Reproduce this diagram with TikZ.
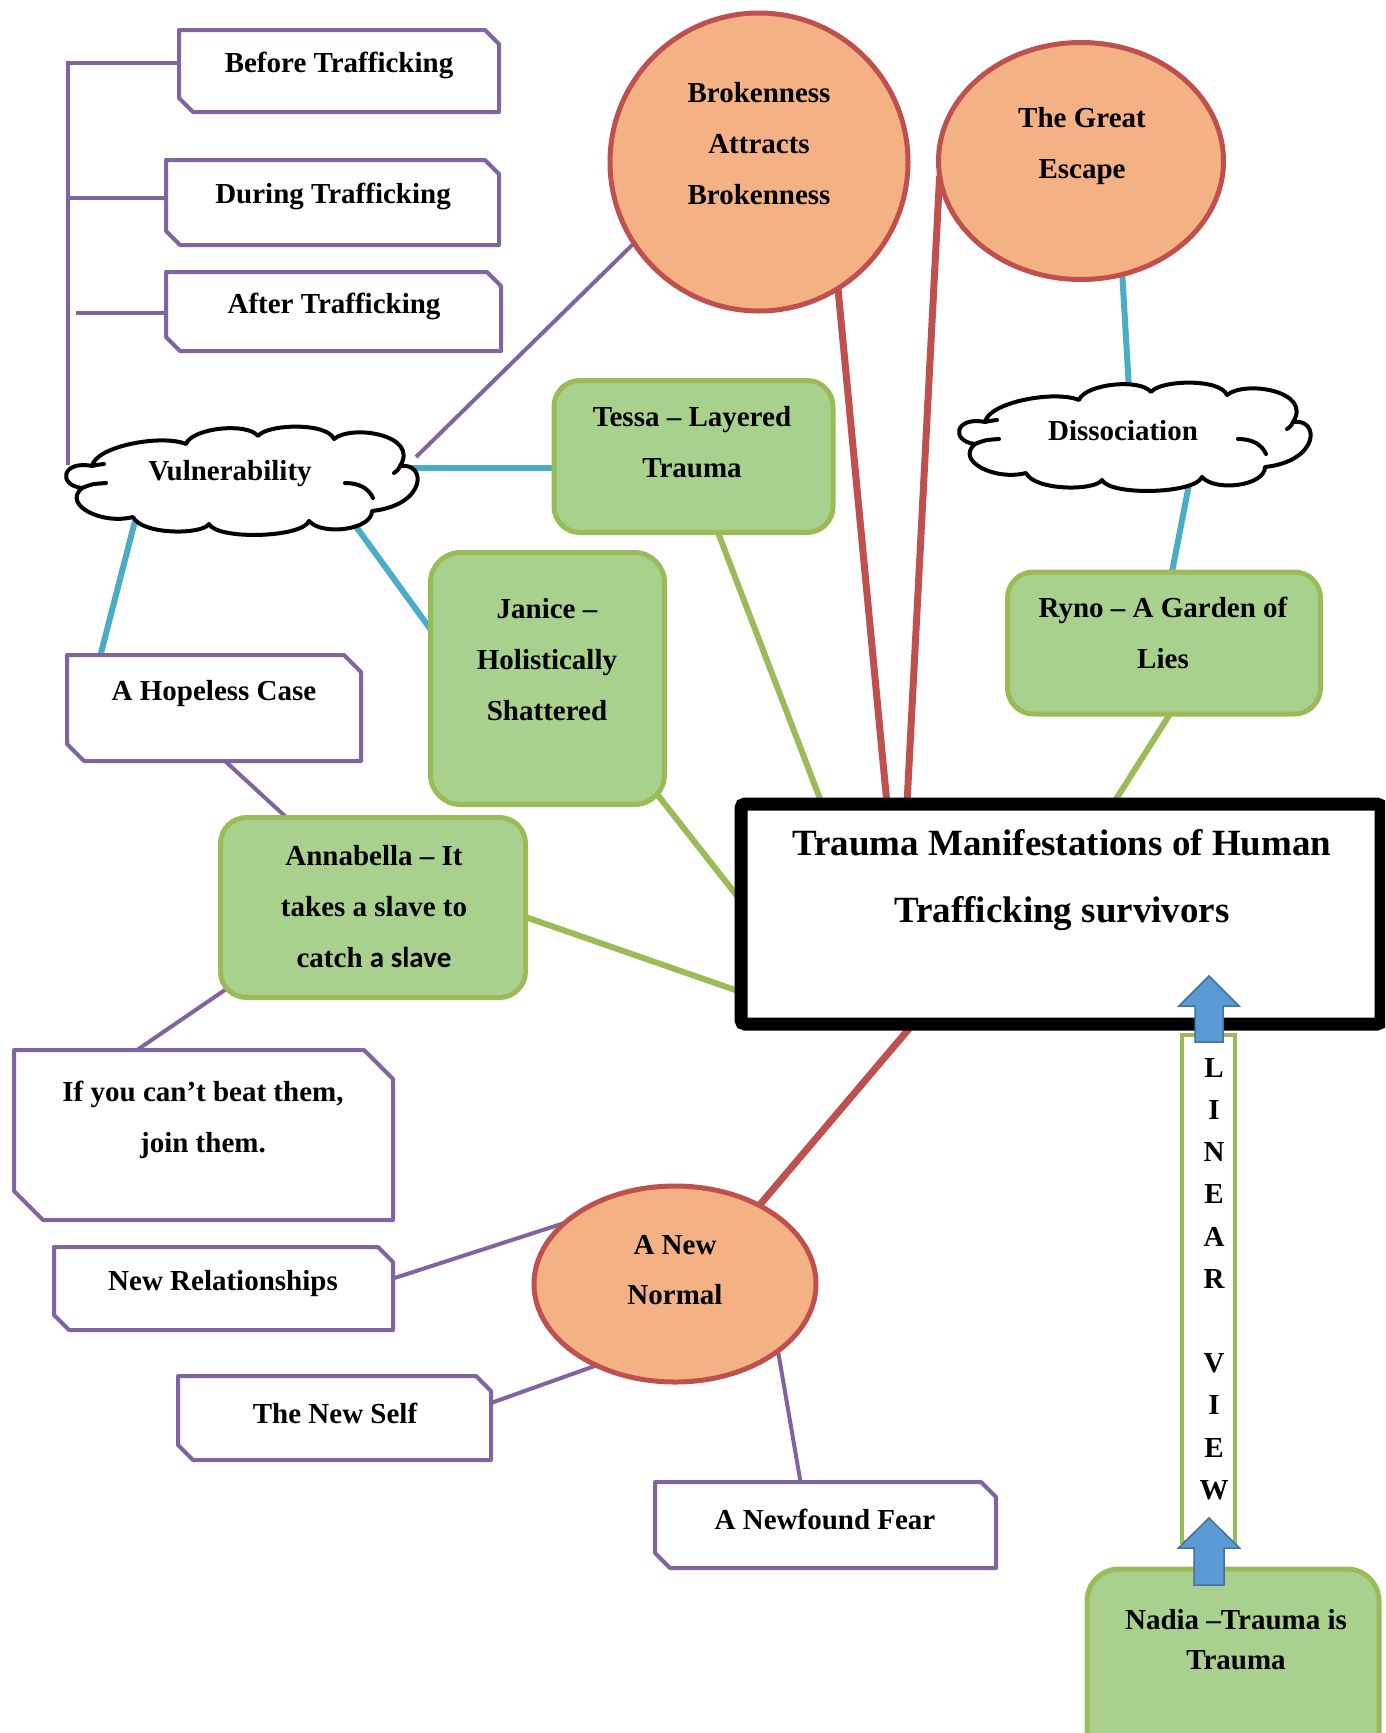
\documentclass[tikz,border=0pt]{standalone}
\usepackage{fontspec}
\setmainfont{Liberation Serif}
\newfontfamily\calibfont{Carlito}
\usetikzlibrary{shapes.geometric,calc}
\pgfdeclarelayer{background}
\pgfsetlayers{background,main}

\definecolor{cPurple}{HTML}{8064A2}
\definecolor{cBlue}{HTML}{4BACC6}
\definecolor{cRed}{HTML}{C0504D}
\definecolor{cGreenLine}{HTML}{9BBB59}
\definecolor{cGreenFill}{HTML}{A9D18E}
\definecolor{cOrange}{HTML}{F4B183}
\definecolor{cArrowFill}{HTML}{5B9BD5}
\definecolor{cArrowLine}{HTML}{41719C}

\tikzset{
  lbl/.style={font=\bfseries\fontsize{29}{51}\selectfont, align=center, inner sep=0pt},
  snipbox/.style={rectangle, inner sep=0pt},
  snipline/.style={draw=cPurple, fill=white, line width=4pt, line join=round},
  greenbox/.style={rectangle, rounded corners=26pt, draw=cGreenLine, fill=cGreenFill,
    line width=5pt, inner sep=0pt},
  bubble/.style={ellipse, draw=cRed, fill=cOrange, line width=5pt, inner sep=0pt},
  cloudspot/.style={ellipse, inner sep=0pt, minimum width=348pt, minimum height=106pt},
  purpline/.style={draw=cPurple, line width=4pt},
  blueline/.style={draw=cBlue, line width=6pt},
  redline/.style={draw=cRed, line width=7pt},
  greenline/.style={draw=cGreenLine, line width=6pt},
  blockarrow/.style={fill=cArrowFill, draw=cArrowLine, line width=1.5pt, line join=miter},
  % cloud outline made of ten puffs, with the short inner strokes of the puffs
  cloudshape/.pic={
    \filldraw[fill=white, draw=black, line width=4pt, line join=round]
      (-150,-14) .. controls (-146,-34) and (-80,-46) .. (-56,-36)
      .. controls (-50,-52) and (5,-58) .. (16,-44)
      .. controls (25,-56) and (85,-58) .. (92,-41)
      .. controls (110,-56) and (178,-45) .. (158,-14)
      .. controls (185,-18) and (185,25) .. (130,31)
      .. controls (130,50) and (80,56) .. (67,41)
      .. controls (60,58) and (-25,60) .. (-33,44)
      .. controls (-40,55) and (-100,55) .. (-109,37)
      .. controls (-140,45) and (-180,25) .. (-160,8)
      .. controls (-185,5) and (-180,-20) .. cycle;
    \draw[black, line width=4pt, line cap=round]
      (-150,-14) .. controls (-146,-15) .. (-138,-16)
      (158,-14) .. controls (156,-10) .. (152,-7)
      (103,3) .. controls (118,3) and (127,9) .. (131,18)
      (-160,8) .. controls (-150,4) .. (-136,3);
  }
}

% purple frame with the north-east and south-west corners cut off
\newcommand{\snipframe}[2]{%
  \filldraw[snipline] (#1.north west) -- ($(#1.north east)+(-#2,0)$)
    -- ($(#1.north east)+(0,#2)$) -- (#1.south east)
    -- ($(#1.south west)+(#2,0)$) -- ($(#1.south west)+(0,-#2)$) -- cycle;}

\begin{document}
\begin{tikzpicture}[x=1pt, y=-1pt, every node/.append style={outer sep=0pt}]
\useasboundingbox (0,0) rectangle (1385,1733);
\begin{scope}
\clip (0,0) rectangle (1385,1733);

% ---- time-line boxes
\node[snipbox, minimum width=320pt, minimum height=82pt] (bt) at (339,71) {};
\snipframe{bt}{14}
\node[lbl] (btt) at (339,65) {Before Trafficking};
\node[snipbox, minimum width=333pt, minimum height=85pt] (dt) at (332.5,202.5) {};
\snipframe{dt}{14}
\node[lbl] (dtt) at (333,196) {During Trafficking};
\node[snipbox, minimum width=335pt, minimum height=79pt] (aft) at (333.5,311.5) {};
\snipframe{aft}{14}
\node[lbl] (aftt) at (334,306) {After Trafficking};

% ---- clouds
\node[cloudspot] (vul) at (242,480) {};
\pic at (vul.center) {cloudshape};
\node[lbl] (vult) at (230,474) {Vulnerability};
\node[cloudspot] (diss) at (1135,436) {};
\pic at (diss.center) {cloudshape};
\node[lbl] (disst) at (1123,431) {Dissociation};

% ---- themes
\node[bubble, minimum width=298pt, minimum height=298pt] (brok) at (759,162) {};
\node[lbl] (brokt) at (759,144) {Brokenness\\Attracts\\Brokenness};
\node[bubble, minimum width=285pt, minimum height=237pt] (esc) at (1081,161) {};
\node[lbl] (esct) at (1082,146) {The Great\\Escape};
\node[bubble, minimum width=282pt, minimum height=196pt] (normal) at (675,1284) {};
\node[lbl, font=\bfseries\fontsize{29}{50}\selectfont] (normalt) at (675,1270) {A New\\Normal};

% ---- participants
\node[greenbox, minimum width=279pt, minimum height=152pt] (tessa) at (693.5,456.5) {};
\node[lbl] (tessat) at (692,442) {Tessa – Layered\\Trauma};
\node[greenbox, rounded corners=30pt, minimum width=234pt, minimum height=252pt] (janice) at (547.5,678.5) {};
\node[lbl] (janicet) at (547,660) {Janice –\\Holistically\\Shattered};
\node[greenbox, minimum width=313pt, minimum height=142pt] (ryno) at (1164,643) {};
\node[lbl] (rynot) at (1163,633) {Ryno – A Garden of\\Lies};
\node[greenbox, minimum width=305pt, minimum height=180pt] (anna) at (373,907.5) {};
\node[lbl] (annat) at (374,907) {Annabella – It\\takes a slave to\\catch {\calibfont a slave}};
\node[greenbox, rounded corners=32pt, minimum width=292pt, minimum height=222pt] (nadia) at (1233,1680) {};
\node[lbl, font=\bfseries\fontsize{29}{40}\selectfont] (nadiat) at (1236,1640) {Nadia –Trauma is\\Trauma};

% ---- sub-themes
\node[snipbox, minimum width=294pt, minimum height=106pt] (hope) at (214,708) {};
\snipframe{hope}{17}
\node[lbl] (hopet) at (214,694) {A Hopeless Case};
\node[snipbox, minimum width=379pt, minimum height=170pt] (ifyou) at (203.5,1135) {};
\snipframe{ifyou}{29}
\node[lbl] (ifyout) at (203,1120) {If you can’t beat them,\\join them.};
\node[snipbox, minimum width=339pt, minimum height=83pt] (newrel) at (223.5,1288.5) {};
\snipframe{newrel}{15}
\node[lbl] (newrelt) at (223,1284) {New Relationships};
\node[snipbox, minimum width=313pt, minimum height=84pt] (newself) at (334.5,1418) {};
\snipframe{newself}{15}
\node[lbl] (newselft) at (335,1413) {The New Self};
\node[snipbox, minimum width=341pt, minimum height=86pt] (fear) at (825.5,1525) {};
\snipframe{fear}{15}
\node[lbl] (feart) at (825,1519) {A Newfound Fear};

% ---- central box
\node[draw=black, line width=13pt, rounded corners=4pt, fill=white, inner sep=0pt,
      minimum width=640pt, minimum height=220pt] (main) at (1061,914) {};
\node[lbl, font=\bfseries\fontsize{37}{67}\selectfont] (maint) at (1062,880)
  {Trauma Manifestations of Human\\Trafficking survivors};

% ---- linear view column
\node[draw=cGreenLine, line width=4pt, fill=white, inner sep=0pt,
      minimum width=53pt, minimum height=507pt] (lvbox) at (1208.5,1288.5) {};
\node[lbl, font=\bfseries\fontsize{29}{42.2}\selectfont] (lvt) at (1214,1279)
  {L\\I\\N\\E\\A\\R\\\mbox{}\\V\\I\\E\\W};

% ---- block arrows
\filldraw[blockarrow] (1209,976) -- (1239,1006) -- (1223,1006) -- (1223,1042)
  -- (1195,1042) -- (1195,1006) -- (1179,1006) -- cycle;
\filldraw[blockarrow] (1209,1518) -- (1239.5,1548) -- (1224,1548) -- (1224,1585)
  -- (1194,1585) -- (1194,1548) -- (1178.5,1548) -- cycle;

% ---- connectors
\begin{pgfonlayer}{background}
  % bracket joining the time-line boxes
  \draw[purpline] ($(vul.west)+(0,-15)$) coordinate (bra) |- ($(bt.west)+(0,-8)$);
  \draw[purpline] ($(bra |- dt.west)+(0,-5)$) -- ($(dt.west)+(0,-5)$);
  \draw[purpline] ($(bra |- aft.west)+(8,1.5)$) -- ($(aft.west)+(0,1.5)$);
  % purple links
  \draw[purpline] ($(vul.east)+(0,-23)$) -- (brok.213);
  \draw[purpline] ($(hope.south)+(11,0)$) -- ($(anna.north west)+(66,0)$);
  \draw[purpline] ($(anna.south west)+(8,-10)$) -- ($(ifyou.north west)+(123,0)$);
  \draw[purpline] ($(newrel.east)+(0,-10)$) -- (normal.151);
  \draw[purpline] ($(newself.east)+(0,-15)$) -- (normal.226);
  \draw[purpline] (normal.327) -- ($(fear.north)+(-25,0)$);
  % blue links
  \draw[blueline] ($(vul.east)+(-6,-12)$) -- ($(tessa.west)+(0,11.5)$);
  \draw[blueline] ($(vul.south)+(-107,-12)$) -- ($(hope.north west)+(33,2)$);
  \draw[blueline] ($(vul.south)+(110,-12)$) -- ($(janice.west)+(2,-46.5)$);
  \draw[blueline] (esc.290) -- ($(diss.north)+(-6,6)$);
  \draw[blueline] ($(diss.south)+(57,-20)$) -- ($(ryno.north)+(8,0)$);
  % red links
  \draw[redline] (brok.302) -- ($(main.north west)+(146,0)$);
  \draw[redline] (esc.186) -- ($(main.north west)+(166,0)$);
  \draw[redline] ($(main.south west)+(172,0)$) -- (normal.43);
  % green links
  \draw[greenline] ($(tessa.south)+(24.5,0)$) -- ($(main.north west)+(81,0)$);
  \draw[greenline] ($(janice.south east)+(-15,-20)$) -- ($(main.west)+(0,-13)$);
  \draw[greenline] ($(anna.east)+(0,9.5)$) -- ($(main.west)+(0,78)$);
  \draw[greenline] ($(ryno.south)+(6,0)$) -- ($(main.north west)+(372,0)$);
\end{pgfonlayer}
\end{scope}
\end{tikzpicture}
\end{document}
